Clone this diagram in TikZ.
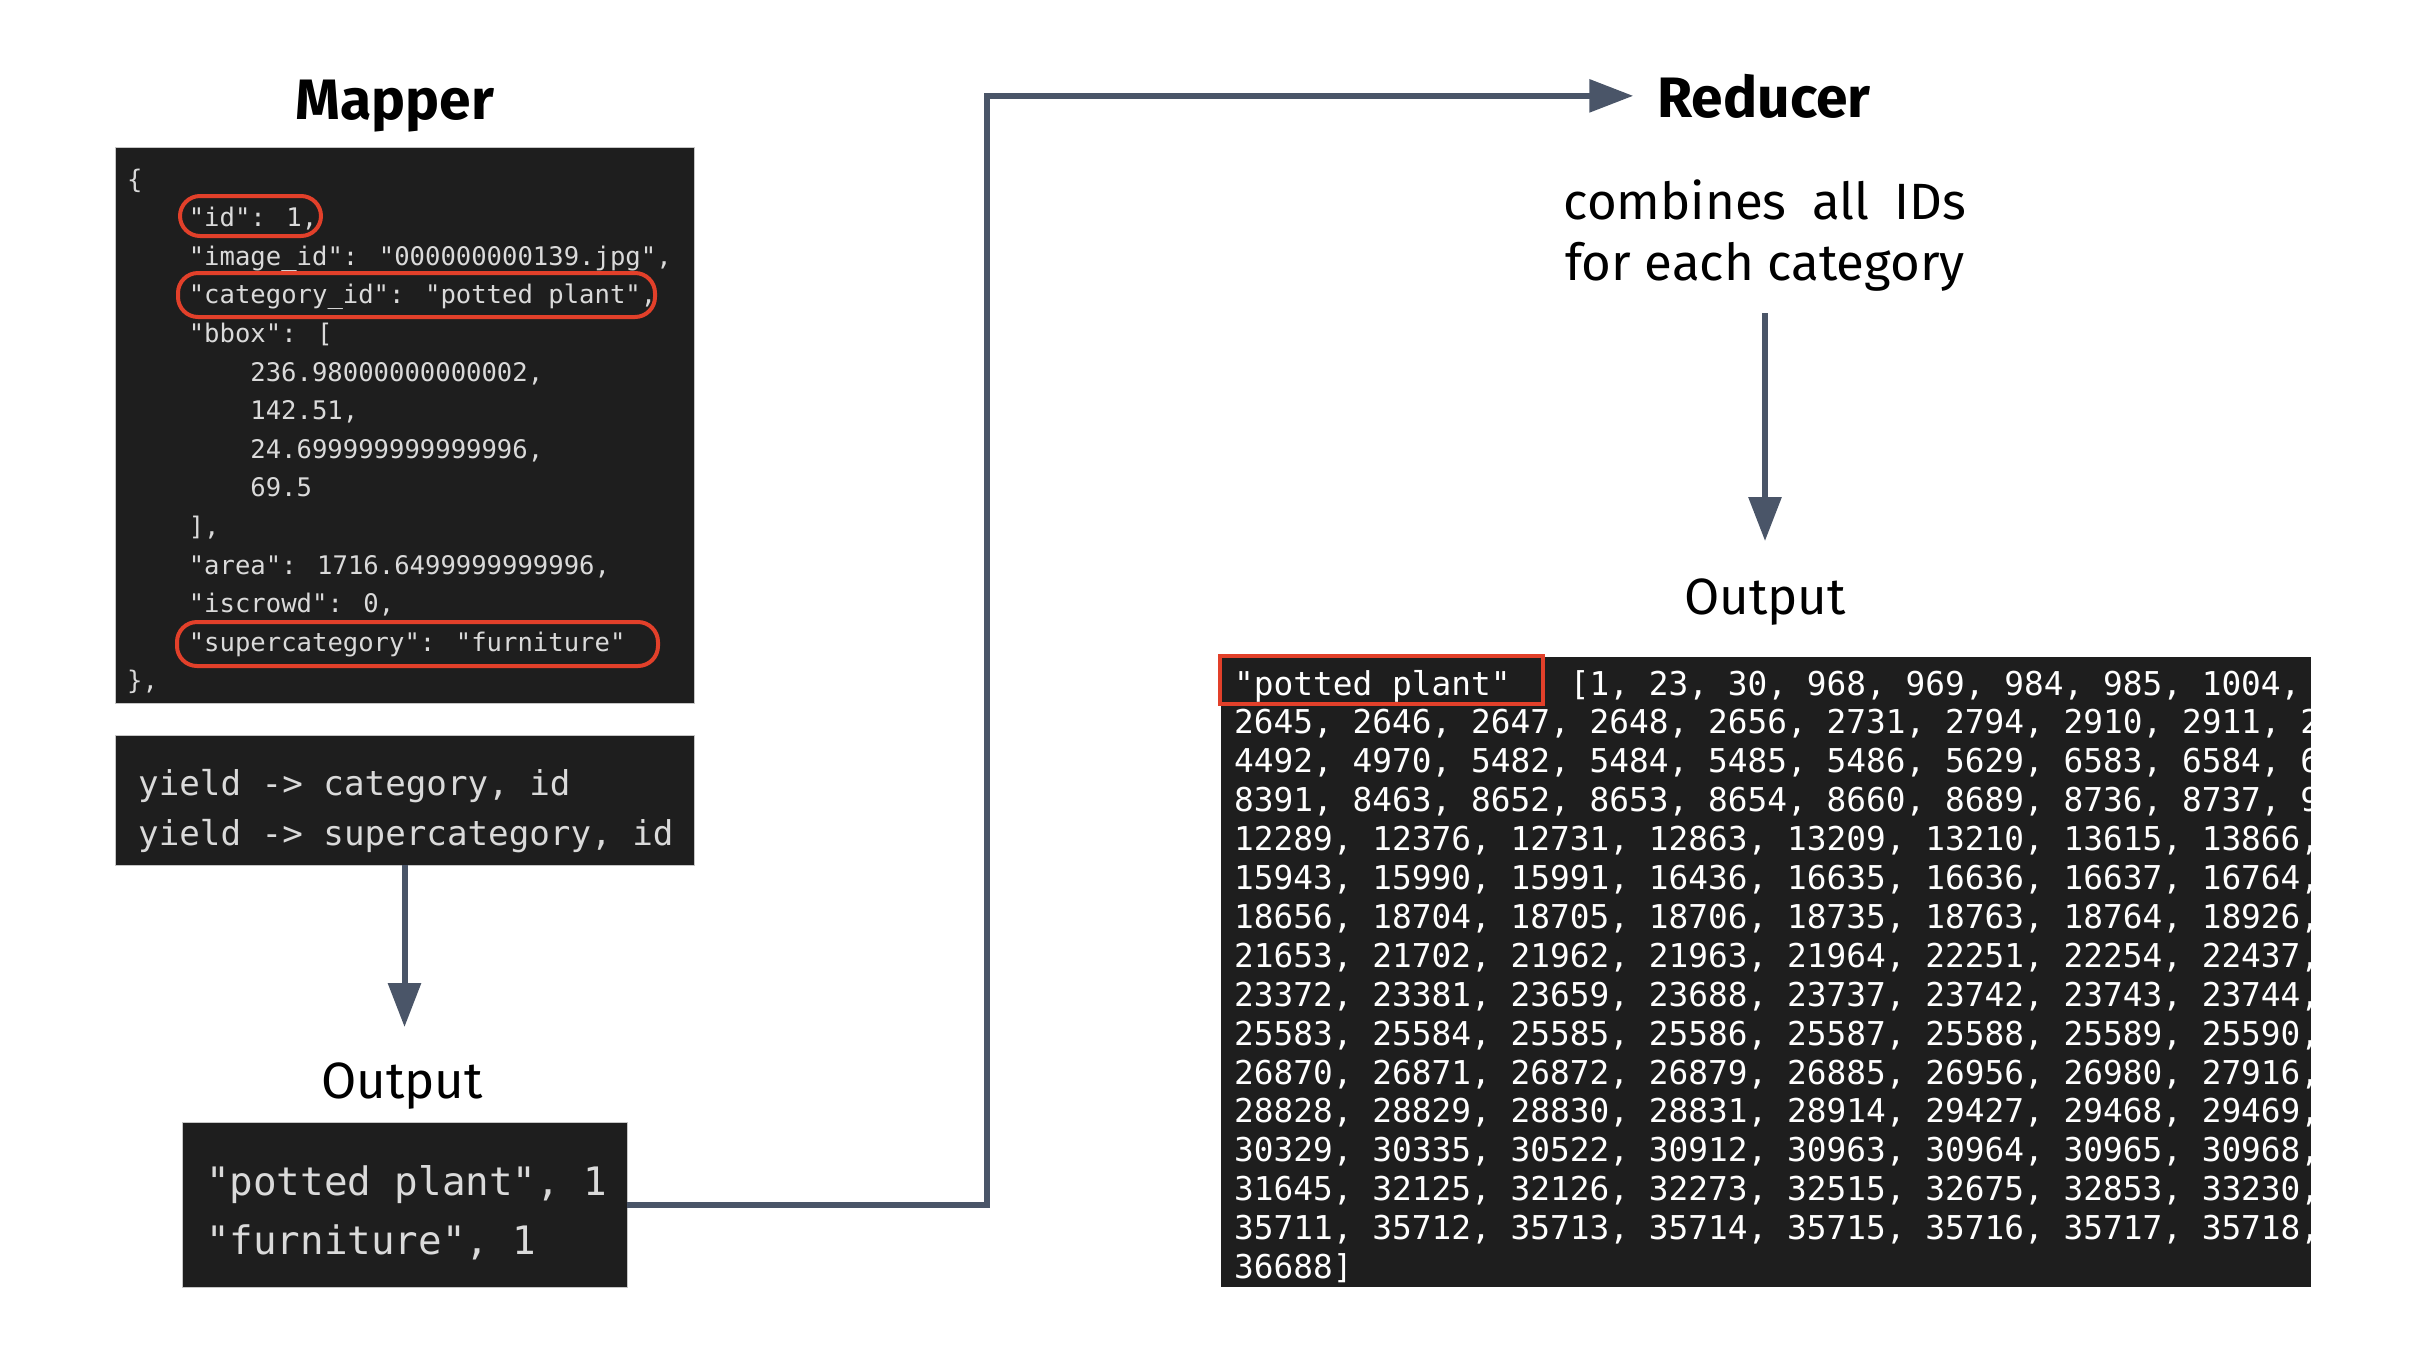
\documentclass[tikz,border=0pt]{standalone}
\usepackage{fontspec}
\usetikzlibrary{arrows.meta}
\newfontfamily\fira{Fira Sans}
\newfontfamily\mono{DejaVu Sans Mono}
\definecolor{codebg}{HTML}{1E1E1E}
\definecolor{codefg}{HTML}{DADADA}
\definecolor{connc}{HTML}{4A5568}
\definecolor{hlred}{HTML}{E2402A}
\tikzset{
  codebox/.style={fill=codebg, draw=gray!45, line width=1pt, inner sep=0pt, outer sep=0pt, anchor=north west},
  jsonline/.style={anchor=base west, inner sep=0pt, text=codefg, font=\mono\fontsize{25.6}{38.6}\selectfont},
  yieldline/.style={anchor=base west, inner sep=0pt, text=codefg, font=\mono\fontsize{34.2}{52}\selectfont},
  outline/.style={anchor=base west, inner sep=0pt, text=codefg, font=\mono\fontsize{39.2}{59}\selectfont},
  redline/.style={anchor=base west, inner sep=0pt, text=white, font=\mono\fontsize{32.8}{39}\selectfont},
  title/.style={anchor=base, inner sep=0pt, font=\fira\bfseries\fontsize{57}{68}\selectfont},
  label/.style={anchor=base, inner sep=0pt, font=\fira\fontsize{51}{61}\selectfont},
  desc/.style={anchor=base, inner sep=0pt, font=\fira\fontsize{51}{61}\selectfont},
  conn/.style={draw=connc, line width=6pt, -{Triangle[length=44pt,width=32pt]}},
  hlround/.style={draw=hlred, line width=4pt, rounded corners=20pt},
  hlsharp/.style={draw=hlred, line width=4pt},
}
\begin{document}
\begin{tikzpicture}[x=1pt,y=-1pt]
\useasboundingbox (0,0) rectangle (2432,1350);

% ---------------- Mapper ----------------
\node[title] (maptitle) at (395,119) {Mapper};

\node[codebox, minimum width=579pt, minimum height=556pt] (json) at (115,147) {};
\node[jsonline] (j0)  at (127,188) {\{};
\node[jsonline] (j1)  at (188.6,226.6) {"id": 1,};
\node[jsonline] (j2)  at (188.6,265.2) {"image\_id": "000000000139.jpg",};
\node[jsonline] (j3)  at (188.6,303.8) {"category\_id": "potted plant",};
\node[jsonline] (j4)  at (188.6,342.4) {"bbox": [};
\node[jsonline] (j5)  at (250.2,381.0) {236.98000000000002,};
\node[jsonline] (j6)  at (250.2,419.6) {142.51,};
\node[jsonline] (j7)  at (250.2,458.2) {24.699999999999996,};
\node[jsonline] (j8)  at (250.2,496.8) {69.5};
\node[jsonline] (j9)  at (188.6,535.4) {],};
\node[jsonline] (j10) at (188.6,574.0) {"area": 1716.6499999999996,};
\node[jsonline] (j11) at (188.6,612.6) {"iscrowd": 0,};
\node[jsonline] (j12) at (188.6,651.2) {"supercategory": "furniture"};
\node[jsonline] (j13) at (127,689.8) {\},};

\draw[hlround] (180,196) rectangle (321,236);
\draw[hlround] (178,273) rectangle (655,317);
\draw[hlround] (177,622) rectangle (658,666);

\node[codebox, minimum width=579pt, minimum height=130pt] (yield) at (115,735) {};
\node[yieldline] (y1) at (138,795) {yield -> category, id};
\node[yieldline] (y2) at (138,845) {yield -> supercategory, id};

\node[label] (mlab) at (402,1098) {Output};

\node[codebox, minimum width=445pt, minimum height=165pt] (mout) at (182,1122) {};
\node[outline] (o1) at (206,1195) {"potted plant", 1};
\node[outline] (o2) at (206,1254) {"furniture", 1};

\draw[conn, shorten >=35pt] (yield.south) -- (yield.south |- mlab.north);

% ---------------- Reducer ----------------
\node[title] (redtitle) at (1764,117) {Reducer};
\node[desc] (comb1) at (1765,219) {combines\hspace{0.5em}all\hspace{0.5em}IDs};
\node[desc] (comb2) at (1765,280) {for each category};
\node[label] (rlab) at (1765,614) {Output};

\coordinate (bendx) at (987,0);
\draw[conn, shorten >=24pt] (mout.east) -| (bendx |- redtitle.west) -- (redtitle.west);

\draw[conn, shorten <=22pt, shorten >=37pt] (comb2.south) -- (comb2.south |- rlab.north);

\node[codebox, draw=none, minimum width=1090pt, minimum height=630pt] (rout) at (1221,657) {};
\begin{scope}
\clip (1221,657) rectangle (2311,1287);
\def\rx{1234}
\node[redline] (r1)  at (\rx,695.0)  {"potted plant"\ \ \ [1, 23, 30, 968, 969, 984, 985, 1004, 1005,};
\node[redline] (r2)  at (\rx,733.9)  {2645, 2646, 2647, 2648, 2656, 2731, 2794, 2910, 2911, 2};
\node[redline] (r3)  at (\rx,772.8)  {4492, 4970, 5482, 5484, 5485, 5486, 5629, 6583, 6584, 6};
\node[redline] (r4)  at (\rx,811.7)  {8391, 8463, 8652, 8653, 8654, 8660, 8689, 8736, 8737, 9};
\node[redline] (r5)  at (\rx,850.6)  {12289, 12376, 12731, 12863, 13209, 13210, 13615, 13866,};
\node[redline] (r6)  at (\rx,889.5)  {15943, 15990, 15991, 16436, 16635, 16636, 16637, 16764,};
\node[redline] (r7)  at (\rx,928.4)  {18656, 18704, 18705, 18706, 18735, 18763, 18764, 18926,};
\node[redline] (r8)  at (\rx,967.3)  {21653, 21702, 21962, 21963, 21964, 22251, 22254, 22437,};
\node[redline] (r9)  at (\rx,1006.2) {23372, 23381, 23659, 23688, 23737, 23742, 23743, 23744,};
\node[redline] (r10) at (\rx,1045.1) {25583, 25584, 25585, 25586, 25587, 25588, 25589, 25590,};
\node[redline] (r11) at (\rx,1084.0) {26870, 26871, 26872, 26879, 26885, 26956, 26980, 27916,};
\node[redline] (r12) at (\rx,1122.9) {28828, 28829, 28830, 28831, 28914, 29427, 29468, 29469,};
\node[redline] (r13) at (\rx,1161.8) {30329, 30335, 30522, 30912, 30963, 30964, 30965, 30968,};
\node[redline] (r14) at (\rx,1200.7) {31645, 32125, 32126, 32273, 32515, 32675, 32853, 33230,};
\node[redline] (r15) at (\rx,1239.6) {35711, 35712, 35713, 35714, 35715, 35716, 35717, 35718,};
\node[redline] (r16) at (\rx,1278.5) {36688]};
\end{scope}

\draw[hlsharp] (1220,656) rectangle (1543,704);
\end{tikzpicture}
\end{document}
